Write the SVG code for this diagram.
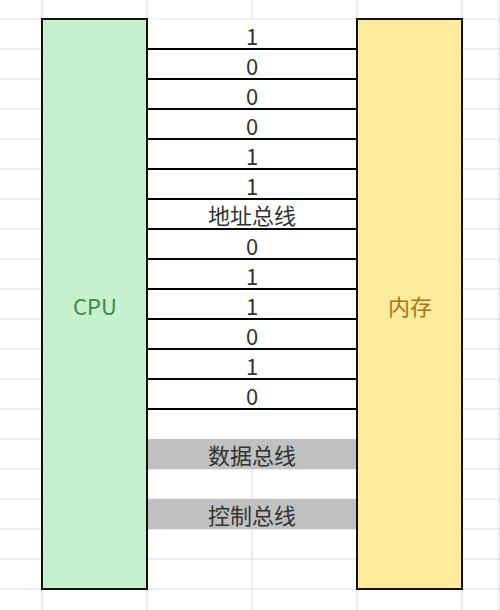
<svg xmlns="http://www.w3.org/2000/svg" width="500" height="610" viewBox="0 0 500 610">
<style>
.grid line{stroke:#DCDCE4;stroke-width:1}
.bus line{stroke:#000;stroke-width:2}
.box{stroke:#111;stroke-width:2}
.t{font-family:"Noto Sans CJK SC","Liberation Sans",sans-serif;font-size:22px;text-anchor:middle;fill:#333}
.bar{fill:#C0C0C0}
</style>
<rect x="0" y="0" width="500" height="610" fill="#FFFFFF"/>
<g class="grid" id="grid">
<line x1="42" y1="0" x2="42" y2="610"/>
<line x1="147" y1="0" x2="147" y2="610"/>
<line x1="252" y1="0" x2="252" y2="610"/>
<line x1="357" y1="0" x2="357" y2="610"/>
<line x1="462" y1="0" x2="462" y2="610"/>
<line x1="499" y1="0" x2="499" y2="610"/>
<line x1="0" y1="19" x2="500" y2="19"/>
<line x1="0" y1="49" x2="500" y2="49"/>
<line x1="0" y1="79" x2="500" y2="79"/>
<line x1="0" y1="109" x2="500" y2="109"/>
<line x1="0" y1="139" x2="500" y2="139"/>
<line x1="0" y1="169" x2="500" y2="169"/>
<line x1="0" y1="199" x2="500" y2="199"/>
<line x1="0" y1="229" x2="500" y2="229"/>
<line x1="0" y1="259" x2="500" y2="259"/>
<line x1="0" y1="289" x2="500" y2="289"/>
<line x1="0" y1="319" x2="500" y2="319"/>
<line x1="0" y1="349" x2="500" y2="349"/>
<line x1="0" y1="379" x2="500" y2="379"/>
<line x1="0" y1="409" x2="500" y2="409"/>
<line x1="0" y1="439" x2="500" y2="439"/>
<line x1="0" y1="469" x2="500" y2="469"/>
<line x1="0" y1="499" x2="500" y2="499"/>
<line x1="0" y1="529" x2="500" y2="529"/>
<line x1="0" y1="559" x2="500" y2="559"/>
<line x1="0" y1="589" x2="500" y2="589"/>
</g>
<rect x="147.5" y="19.5" width="209" height="419.5" fill="#FFFFFF"/>
<g id="connectors" class="bus">
<line x1="147" y1="49" x2="357" y2="49"/>
<line x1="147" y1="79" x2="357" y2="79"/>
<line x1="147" y1="109" x2="357" y2="109"/>
<line x1="147" y1="139" x2="357" y2="139"/>
<line x1="147" y1="169" x2="357" y2="169"/>
<line x1="147" y1="199" x2="357" y2="199"/>
<line x1="147" y1="229" x2="357" y2="229"/>
<line x1="147" y1="259" x2="357" y2="259"/>
<line x1="147" y1="289" x2="357" y2="289"/>
<line x1="147" y1="319" x2="357" y2="319"/>
<line x1="147" y1="349" x2="357" y2="349"/>
<line x1="147" y1="379" x2="357" y2="379"/>
<line x1="147" y1="409" x2="357" y2="409"/>
</g>
<g id="address-bus">
<text class="t" x="252" y="45">1</text>
<text class="t" x="252" y="75">0</text>
<text class="t" x="252" y="105">0</text>
<text class="t" x="252" y="135">0</text>
<text class="t" x="252" y="165">1</text>
<text class="t" x="252" y="195">1</text>
<text class="t" x="252" y="224">地址总线</text>
<text class="t" x="252" y="255">0</text>
<text class="t" x="252" y="285">1</text>
<text class="t" x="252" y="315">1</text>
<text class="t" x="252" y="345">0</text>
<text class="t" x="252" y="375">1</text>
<text class="t" x="252" y="405">0</text>
</g>
<g id="data-bus">
<rect class="bar" x="147" y="439" width="210" height="30"/>
<text class="t" x="252" y="464">数据总线</text>
</g>
<g id="control-bus">
<rect class="bar" x="147" y="499" width="210" height="30"/>
<text class="t" x="252" y="524">控制总线</text>
</g>
<g id="cpu">
<rect class="box" x="42" y="19" width="105" height="570" fill="#C6EFCE"/>
<text class="t" x="95" y="315" style="fill:#3C8A46">CPU</text>
</g>
<g id="memory">
<rect class="box" x="357" y="19" width="105" height="570" fill="#FFEB9C"/>
<text class="t" x="410" y="315" style="fill:#A8731E">内存</text>
</g>
</svg>
